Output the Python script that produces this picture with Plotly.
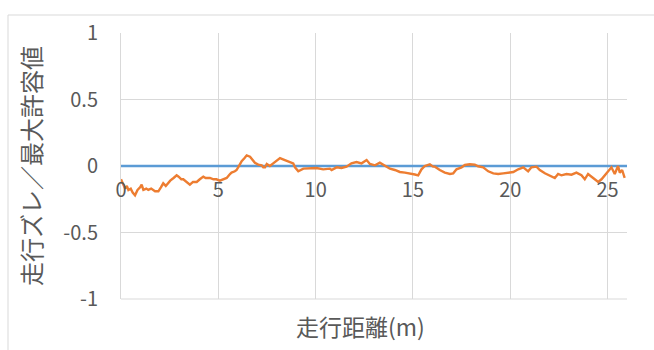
import plotly.graph_objects as go

# ---- data ----
distance_m = [
    0.00, 0.05, 0.12, 0.21, 0.30, 0.38, 0.50, 0.60, 0.72, 0.85, 0.98, 1.06, 1.15, 1.30, 1.40,
    1.55, 1.75, 1.92, 2.05, 2.17, 2.30, 2.45, 2.53, 2.70, 2.86, 2.96, 3.10, 3.20, 3.35, 3.54,
    3.70, 3.89, 4.05, 4.23, 4.35, 4.57, 4.75, 4.90, 5.08, 5.25, 5.43, 5.60, 5.68, 5.85, 5.94,
    6.10, 6.20, 6.35, 6.46, 6.63, 6.80, 6.88, 7.05, 7.23, 7.31, 7.40, 7.49, 7.65, 7.82, 7.91,
    8.17, 8.42, 8.68, 8.85, 8.94, 9.11, 9.37, 9.71, 9.88, 10.05, 10.39, 10.73, 10.82, 11.08,
    11.33, 11.59, 11.84, 12.10, 12.36, 12.62, 12.79, 13.05, 13.30, 13.56, 13.82, 14.07, 14.33,
    14.59, 14.84, 15.10, 15.27, 15.44, 15.61, 15.87, 16.04, 16.13, 16.38, 16.64, 16.90, 17.07,
    17.24, 17.50, 17.67, 17.92, 18.18, 18.35, 18.61, 18.87, 19.13, 19.38, 19.64, 19.90, 20.16,
    20.41, 20.67, 20.92, 21.09, 21.35, 21.52, 21.78, 22.03, 22.29, 22.46, 22.63, 22.89, 23.15,
    23.40, 23.66, 23.83, 24.00, 24.26, 24.52, 24.69, 24.86, 25.03, 25.20, 25.37, 25.54, 25.63,
    25.75, 25.88,
]
deviation_ratio = [
    -0.10, -0.12, -0.15, -0.17, -0.15, -0.18, -0.17, -0.20, -0.22, -0.18, -0.16, -0.14, -0.18, -0.17, -0.18,
    -0.17, -0.19, -0.19, -0.16, -0.13, -0.15, -0.12, -0.11, -0.09, -0.07, -0.08, -0.10, -0.10, -0.12, -0.14,
    -0.12, -0.12, -0.10, -0.08, -0.09, -0.09, -0.10, -0.10, -0.11, -0.10, -0.09, -0.06, -0.05, -0.04, -0.03,
    0.01, 0.036, 0.06, 0.08, 0.07, 0.036, 0.024, 0.01, 0.005, -0.01, -0.01, 0.015, 0.0, 0.02, 0.03,
    0.06, 0.045, 0.03, 0.02, -0.01, -0.04, -0.02, -0.02, -0.015, -0.015, -0.025, -0.02, -0.03, -0.01,
    -0.015, -0.005, 0.02, 0.03, 0.02, 0.045, 0.015, 0.005, 0.025, 0.0, -0.02, -0.03, -0.045,
    -0.05, -0.055, -0.064, -0.07, -0.025, 0.0, 0.012, -0.005, -0.005, -0.03, -0.05, -0.06, -0.055,
    -0.025, -0.01, 0.008, 0.013, 0.01, -0.002, -0.01, -0.04, -0.055, -0.06, -0.055, -0.05, -0.045,
    -0.025, -0.01, -0.04, -0.01, -0.005, -0.03, -0.055, -0.075, -0.09, -0.06, -0.07, -0.06, -0.065,
    -0.05, -0.07, -0.10, -0.06, -0.09, -0.12, -0.10, -0.07, -0.04, -0.01, -0.06, 0.0, -0.05,
    -0.03, -0.09,
]
limit_x = [0, 26]
limit_y = [0, 0]

x_tick_vals = [0, 5, 10, 15, 20, 25]
x_tick_text = ["0", "5", "10", "15", "20", "25"]
y_tick_vals = [-1, -0.5, 0, 0.5, 1]
y_tick_text = ["-1", "-0.5", "0", "0.5", "1"]

x_title = "走行距離(m)"
y_title = "走行ズレ／最大許容値"

# ---- styling ----
TEXT = "#595959"
GRID = "#d9d9d9"
FONT = "Noto Sans CJK JP, Noto Sans, sans-serif"

W, H = 654, 350
ML, MR, MT, MB = 121, 27, 33, 51
PW, PH = W - ML - MR, H - MT - MB

def px_to_paper_x(px):
    return (px - ML) / PW

def px_to_paper_y(py):
    return (H - MB - py) / PH

fig = go.Figure()
fig.add_trace(go.Scatter(x=limit_x, y=limit_y, mode="lines",
                         line=dict(color="#5B9BD5", width=2.5), hoverinfo="skip"))
fig.add_trace(go.Scatter(x=distance_m, y=deviation_ratio, mode="lines",
                         line=dict(color="#ED7D31", width=2.4)))

fig.update_layout(
    width=W, height=H,
    margin=dict(l=ML, r=MR, t=MT, b=MB, autoexpand=False),
    paper_bgcolor="white", plot_bgcolor="white",
    showlegend=False,
    font=dict(family=FONT, color=TEXT),
    xaxis=dict(
        range=[0, 26], tickvals=x_tick_vals, ticktext=x_tick_text,
        anchor="free", position=0.5,
        showgrid=True, gridcolor=GRID, gridwidth=1,
        zeroline=False, showline=False, ticks="",
        ticklabelstandoff=10,
        tickfont=dict(size=20, color=TEXT, family=FONT),
    ),
    yaxis=dict(
        range=[-1, 1], tickvals=y_tick_vals, ticktext=y_tick_text,
        showgrid=True, gridcolor=GRID, gridwidth=1,
        zeroline=False, showline=True, linecolor=GRID, linewidth=1,
        ticks="", ticklabelstandoff=18,
        tickfont=dict(size=20, color=TEXT, family=FONT),
        title=dict(text=y_title, font=dict(size=24, color=TEXT, family=FONT), standoff=14),
    ),
    shapes=[
        dict(type="rect", xref="paper", yref="paper",
             x0=px_to_paper_x(8), y0=px_to_paper_y(400),
             x1=px_to_paper_x(720), y1=px_to_paper_y(15),
             line=dict(color=GRID, width=1), fillcolor="rgba(0,0,0,0)", layer="below"),
        # bottom border of the plot area (the -1 gridline)
        dict(type="line", xref="paper", yref="paper", x0=0, x1=1, y0=0, y1=0,
             line=dict(color=GRID, width=1), layer="below"),
    ],
    annotations=[dict(text=x_title, xref="paper", yref="paper",
                      x=px_to_paper_x(360), y=px_to_paper_y(326),
                      xanchor="center", yanchor="middle", showarrow=False,
                      font=dict(size=23, color=TEXT, family=FONT))],
)

fig.write_html("out.html")
